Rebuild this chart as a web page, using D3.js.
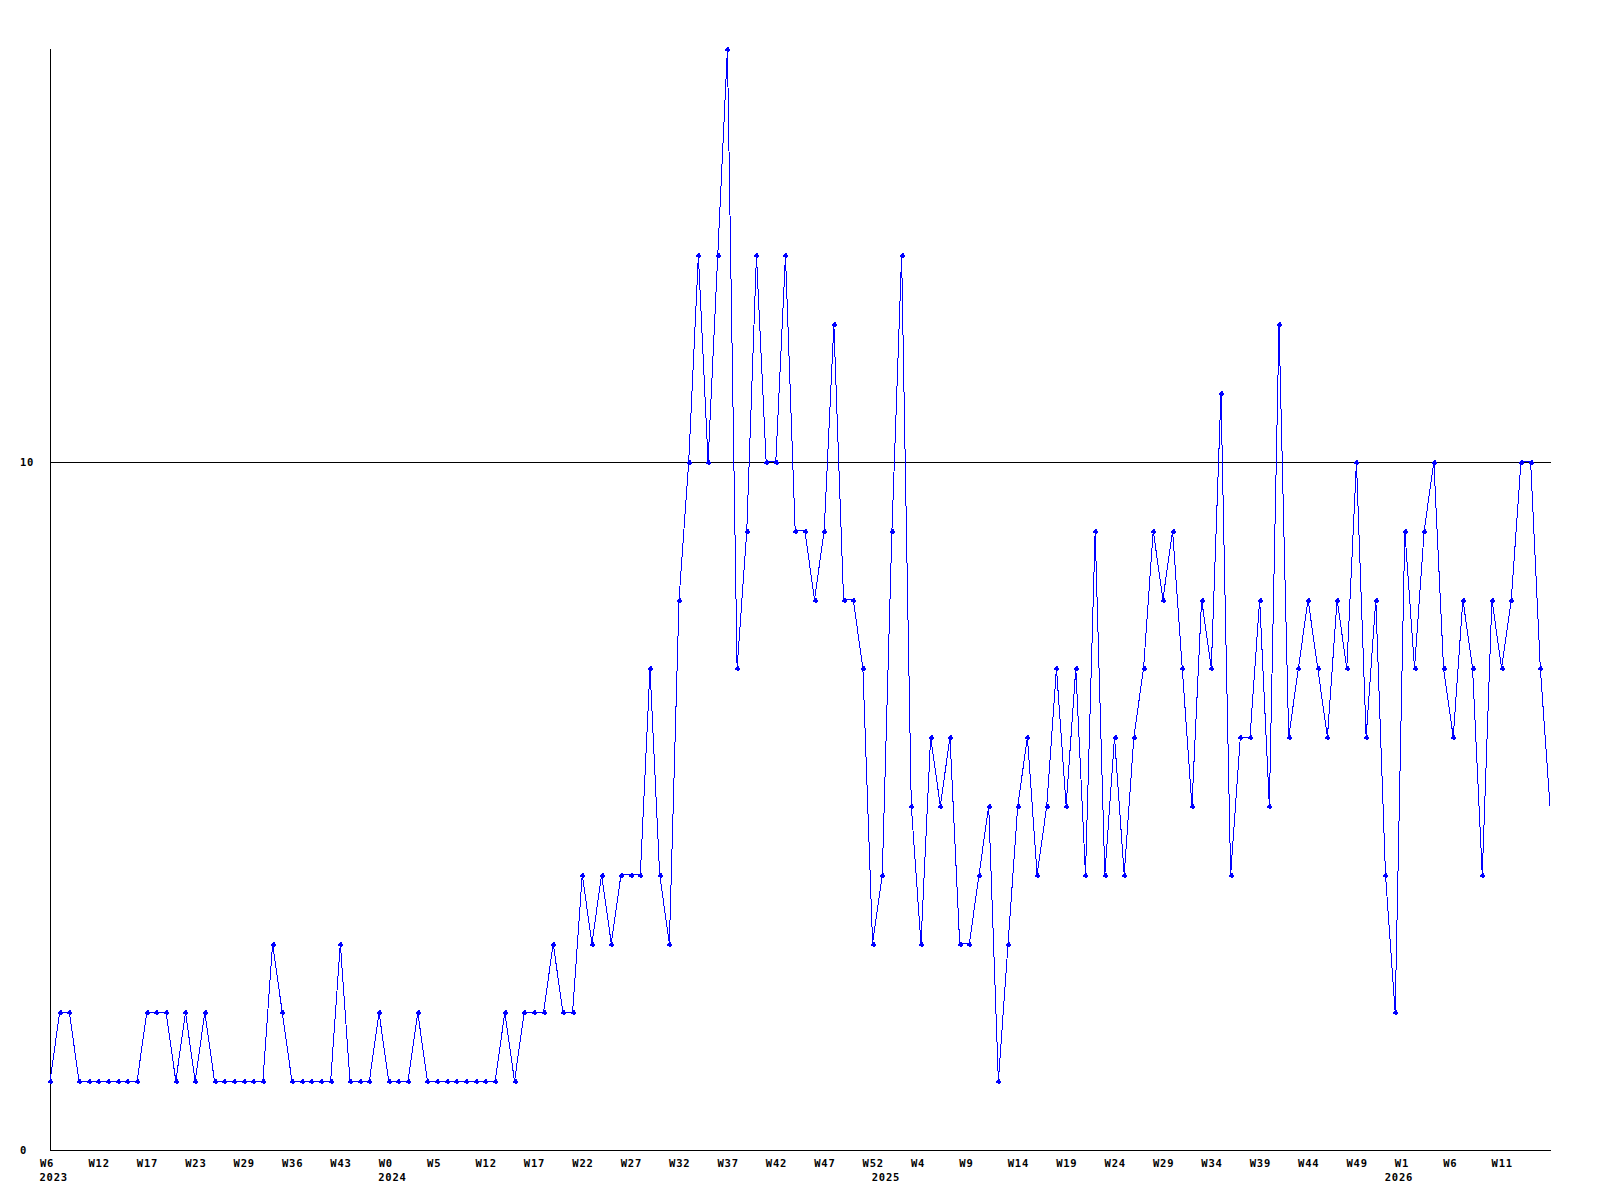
<!DOCTYPE html>
<html>
<head>
<meta charset="utf-8">
<script src="https://cdn.jsdelivr.net/npm/d3@7"></script>
<style>
  html, body { margin: 0; padding: 0; background: #ffffff; }
  svg text { font-family: "DejaVu Sans Mono", "Liberation Mono", monospace; font-weight: bold; font-size: 10.5px; letter-spacing: 0.8px; fill: #000; }
</style>
</head>
<body>
<svg id="chart" width="1600" height="1200"></svg>
<script>
// ---- data ----
const values = [
  1,2,2,1,1,1,1,1,1,1, 2,2,2,1,2,1,2,1,1,1,
  1,1,1,3,2,1,1,1,1,1, 3,1,1,1,2,1,1,1,2,1,
  1,1,1,1,1,1,1,2,1,2, 2,2,3,2,2,4,3,4,3,4,
  4,4,7,4,3,8,10,13,10,13, 16,7,9,13,10,10,13,9,9,8,
  9,12,8,8,7,3,4,9,13,5, 3,6,5,6,3,3,4,5,1,3,
  5,6,4,5,7,5,7,4,9,4, 6,4,6,7,9,8,9,7,5,8,
  7,11,4,6,6,8,5,12,6,7, 8,7,6,8,7,10,6,8,4,2,
  9,7,9,10,7,6,8,7,4,8, 7,8,10,10,7,5
];
const weekLabels = ["W6","W12","W17","W23","W29","W36","W43","W0","W5","W12","W17","W22","W27","W32","W37","W42","W47","W52","W4","W9","W14","W19","W24","W29","W34","W39","W44","W49","W1","W6","W11"];
const tickStep = 5;
const yearLabels = ["2023","2024","2025","2026"];
const yearIndex = [0, 35, 86, 139];
const yTicks = [0, 10];
const yMax = 16;

// ---- layout ----
const svg = d3.select("#chart");
const plotLeft = 50, plotRight = 1550, plotTop = 49, plotBottom = 1150;

const x = d3.scaleLinear().domain([0, values.length - 1]).range([plotLeft, plotRight]);
const y = d3.scaleLinear().domain([0, yMax]).range([plotBottom, plotTop]);

// gridline at 10
svg.append("g").selectAll("line").data(yTicks.filter(d => d > 0)).join("line")
  .attr("x1", plotLeft).attr("x2", plotRight + 1)
  .attr("y1", d => Math.round(y(d)) + 0.5).attr("y2", d => Math.round(y(d)) + 0.5)
  .attr("stroke", "#000").attr("stroke-width", 1).attr("shape-rendering", "crispEdges");

// axes
const tickIdx = weekLabels.map((_, i) => i * tickStep);
const xAxis = d3.axisBottom(x).tickValues(tickIdx).tickSize(0).tickPadding(0)
  .tickFormat((d, i) => weekLabels[i]);
const gx = svg.append("g").attr("transform", `translate(0,${plotBottom + 0.5})`).call(xAxis);
gx.attr("font-family", null).attr("font-size", null);
gx.select(".domain").attr("stroke", "#000").attr("shape-rendering", "crispEdges")
  .attr("d", `M${plotLeft},0H${plotRight + 1}`);
gx.selectAll(".tick text").attr("text-anchor", "start").attr("dx", -10.5).attr("y", 16).attr("dy", 0);

const gy = svg.append("g").attr("transform", `translate(${plotLeft + 0.5},0)`)
  .call(d3.axisLeft(y).tickValues(yTicks).tickSize(0).tickPadding(0).tickFormat(d3.format("d")));
gy.attr("font-family", null).attr("font-size", null);
gy.select(".domain").attr("stroke", "#000").attr("shape-rendering", "crispEdges")
  .attr("d", `M0,${plotTop}V${plotBottom}`);
gy.selectAll(".tick text").attr("text-anchor", "start").attr("x", 20 - plotLeft - 0.5).attr("dy", 0).attr("y", 3.5);

// year labels
svg.append("g").selectAll("text").data(yearLabels).join("text")
  .attr("x", (d, i) => x(yearIndex[i]) - 10.5)
  .attr("y", 1180.5)
  .text(d => d);

// line
const line = d3.line().x((d, i) => x(i)).y(d => y(d));
svg.append("path").datum(values)
  .attr("d", line)
  .attr("fill", "none").attr("stroke", "#0000ff").attr("stroke-width", 1)
  .attr("shape-rendering", "crispEdges");

// markers (last point sits on the plot edge and shows no marker)
const mk = svg.append("g").attr("fill", "#0000ff").attr("shape-rendering", "crispEdges");
values.slice(0, values.length - 1).forEach((v, i) => {
  const cx = Math.round(x(i)), cy = Math.round(y(v));
  mk.append("rect").attr("x", cx - 2).attr("y", cy - 0.5).attr("width", 5).attr("height", 2);
  mk.append("rect").attr("x", cx - 0.5).attr("y", cy - 2).attr("width", 2).attr("height", 5);
  mk.append("rect").attr("x", cx - 1).attr("y", cy - 1).attr("width", 3).attr("height", 3);
});
</script>
</body>
</html>
